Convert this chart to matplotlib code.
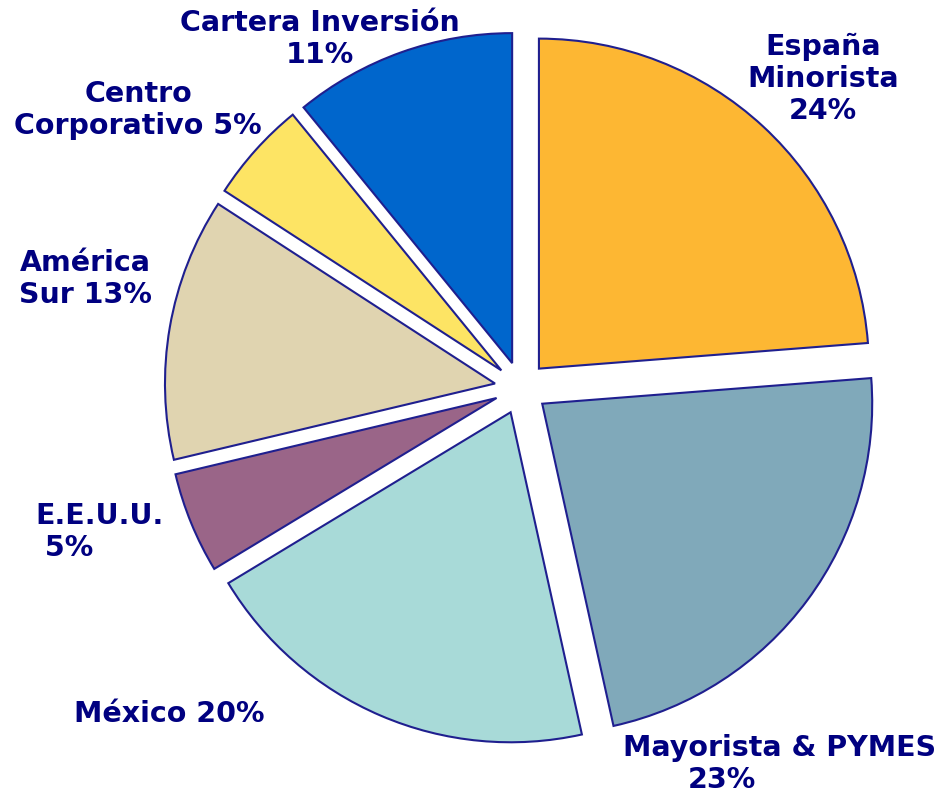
import matplotlib.pyplot as plt

# datos del grafico (porcentajes por area de negocio)
areas = ["España Minorista", "Mayorista & PYMES", "México", "E.E.U.U.",
         "América Sur", "Centro Corporativo", "Cartera Inversión"]
pesos = [24, 23, 20, 5, 13, 5, 11]
colores = ["#FDB733", "#80A9BA", "#A8DAD8", "#9A6588",
           "#E0D4B0", "#FDE464", "#0066CC"]
etiquetas = ["España\nMinorista\n24%", "Mayorista & PYMES", "México 20%",
             "E.E.U.U.\n 5%", "América\nSur 13%", "Centro\nCorporativo 5%",
             "Cartera Inversión\n11%"]

W, H = 940, 796
cx, cy, r = 521, 388, 330   # centro y radio en pixeles

fig = plt.figure(figsize=(W / 100, H / 100), dpi=100)
ax = fig.add_axes([0, 0, 1, 1])

ax.pie(pesos, colors=colores, startangle=90, counterclock=False,
       explode=[0.08] * len(pesos), radius=1,
       wedgeprops=dict(edgecolor="#1F1F8F", linewidth=1.5))

ax.set_xlim(-cx / r, (W - cx) / r)
ax.set_ylim(-(H - cy) / r, cy / r)
ax.set_aspect("equal")
ax.axis("off")


def pos(x, y):
    return (x - cx) / r, (cy - y) / r


azul = "#000080"
estilo = dict(color=azul, fontsize=20.5, fontweight="bold", linespacing=1.18)

# posiciones de las etiquetas (pixeles del original)
sitios = [(823, 79, "center"), (780, 748, "center"), (169, 714, "center"),
          (35, 532, "left"), (85, 279, "center"), (138, 110, "center"),
          (320, 39, "center")]
for txt, (x, y, ha) in zip(etiquetas, sitios):
    ax.text(*pos(x, y), txt, ha=ha, va="center", multialignment=ha, **estilo)
ax.text(*pos(722, 780), "23%", ha="center", va="center", **estilo)

plt.savefig("out.png", dpi=100)
